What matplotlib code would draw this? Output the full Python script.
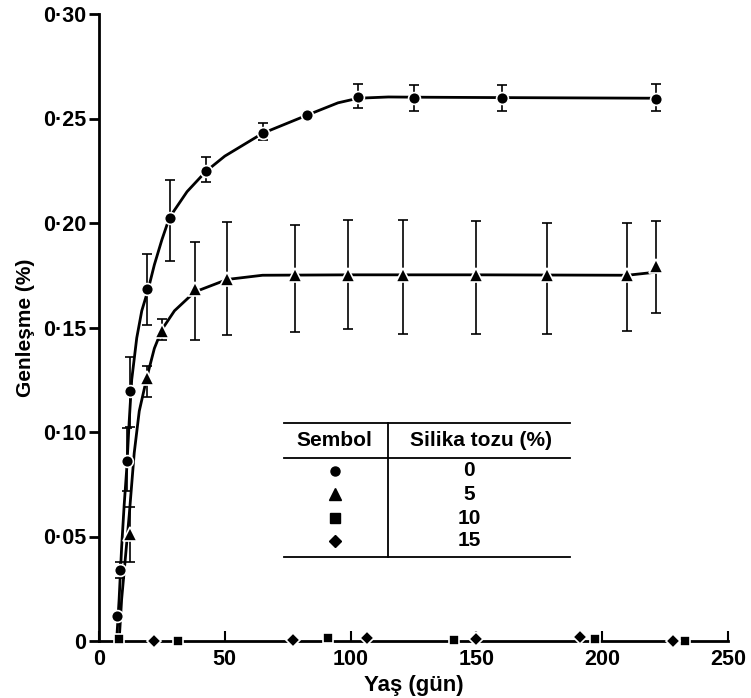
import matplotlib.pyplot as plt
from matplotlib.ticker import FuncFormatter
from matplotlib.lines import Line2D

plt.rcParams['font.family'] = ['Liberation Sans', 'DejaVu Sans']

# silika tozu 0 %
c_x = [7.2, 8.3, 11.3, 12.4, 19.1, 28.2, 42.5, 65.2, 82.7, 103, 125, 160, 221.5]
c_y = [0.012, 0.034, 0.086, 0.1195, 0.1685, 0.2026, 0.2247, 0.2429, 0.2516, 0.2605, 0.2600, 0.2600, 0.2595]
c_lo = [0, 0.004, 0.014, 0.017, 0.0175, 0.021, 0.005, 0.0033, 0, 0.0056, 0.0065, 0.0065, 0.006]
c_hi = [0, 0.004, 0.016, 0.0165, 0.0168, 0.018, 0.0067, 0.0048, 0, 0.0062, 0.006, 0.006, 0.0072]

# silika tozu 5 %
t_x = [12.3, 19.2, 25, 38.2, 51, 78, 99, 121, 150, 178, 210, 221.5]
t_y = [0.051, 0.1258, 0.1483, 0.1685, 0.1733, 0.175, 0.1752, 0.1752, 0.1752, 0.1752, 0.1752, 0.1795]
t_lo = [0.013, 0.009, 0.0045, 0.0245, 0.027, 0.027, 0.026, 0.0285, 0.0285, 0.0285, 0.027, 0.0225]
t_hi = [0.013, 0.0057, 0.0057, 0.0225, 0.0274, 0.024, 0.0264, 0.026, 0.0258, 0.025, 0.025, 0.0215]

# silika tozu 10 % ve 15 %
s_x = [7.8, 31.5, 91, 141, 197, 233]
s_y = [0.001, 0.0, 0.0015, 0.0005, 0.001, 0.0]
d_x = [21.7, 77, 106.6, 150, 191, 228]
d_y = [0.0, 0.0005, 0.0015, 0.001, 0.002, 0.0]

# fitted curves
fit0_x = [7, 8, 9, 10, 11, 12, 13, 15, 17, 19.5, 22, 25, 28, 35, 42.5, 50, 65, 82.7, 95, 103, 115, 125, 160, 221.5]
fit0_y = [0.0, 0.02, 0.045, 0.065, 0.082, 0.105, 0.125, 0.145, 0.158, 0.168, 0.180, 0.192, 0.2026, 0.215, 0.2247,
          0.232, 0.2429, 0.2516, 0.2575, 0.2597, 0.2603, 0.2602, 0.2600, 0.2597]
fit5_x = [8, 9, 10.5, 12, 14, 16, 19, 22, 25, 30, 38, 51, 65, 100, 150, 210, 221.5]
fit5_y = [0.0, 0.02, 0.04, 0.06, 0.09, 0.11, 0.126, 0.140, 0.149, 0.158, 0.167, 0.173, 0.175, 0.1752, 0.1752,
          0.175, 0.1765]

legend_syms = ['o', '^', 's', 'D']
legend_vals = ['0', '5', '10', '15']

fig = plt.figure(figsize=(7.51, 6.98), dpi=100)
ax = fig.add_axes([99 / 751, 57 / 698, 629 / 751, 627 / 698])

ax.errorbar(c_x, c_y, yerr=[c_lo, c_hi], fmt='none', ecolor='black', elinewidth=1.2, capsize=3.5, capthick=1.2)
ax.errorbar(t_x, t_y, yerr=[t_lo, t_hi], fmt='none', ecolor='black', elinewidth=1.2, capsize=3.5, capthick=1.2)
ax.plot(fit0_x, fit0_y, color='black', lw=2.0, solid_capstyle='round')
ax.plot(fit5_x, fit5_y, color='black', lw=2.0, solid_capstyle='round')

mk = dict(linestyle='none', color='black', markeredgecolor='white', markeredgewidth=1.2, clip_on=False, zorder=4)
ax.plot(c_x, c_y, marker='o', markersize=8.5, **mk)
ax.plot(t_x, t_y, marker='^', markersize=10, **mk)
ax.plot(s_x, s_y, marker='s', markersize=7.5, **mk)
ax.plot(d_x, d_y, marker='D', markersize=7.5, **mk)

ax.set_xlim(0, 250)
ax.set_ylim(0, 0.30)
ax.set_xticks([0, 50, 100, 150, 200, 250])
ax.set_yticks([0, 0.05, 0.10, 0.15, 0.20, 0.25, 0.30])
ax.yaxis.set_major_formatter(FuncFormatter(lambda v, p: '0' if v == 0 else ('%.2f' % v).replace('.', '\u00b7')))
for s in ['top', 'right']:
    ax.spines[s].set_visible(False)
for s in ['left', 'bottom']:
    ax.spines[s].set_linewidth(2.0)
ax.tick_params(axis='y', direction='out', length=7, width=2, labelsize=15.5, pad=2)
ax.tick_params(axis='x', direction='in', length=7, width=1.5, labelsize=15.5, pad=6)
for lab in ax.get_xticklabels() + ax.get_yticklabels():
    lab.set_fontweight('bold')

ax.set_xlabel('Yaş (gün)', fontsize=16, fontweight='bold', labelpad=3)
ax.set_ylabel('Genleşme (%)', fontsize=15, fontweight='bold', labelpad=6)

# symbol table
def fx(px):
    return (px - 99) / 629

def fy(py):
    return (641 - py) / 627

for py in [423, 458, 557]:
    ax.add_line(Line2D([fx(284), fx(570)], [fy(py), fy(py)], transform=ax.transAxes, color='black', lw=1.3))
ax.add_line(Line2D([fx(388), fx(388)], [fy(423), fy(557)], transform=ax.transAxes, color='black', lw=1.3))
ax.text(fx(334), fy(441), 'Sembol', transform=ax.transAxes, ha='center', va='center', fontsize=15,
        fontweight='bold')
ax.text(fx(481), fy(441), 'Silika tozu (%)', transform=ax.transAxes, ha='center', va='center', fontsize=15,
        fontweight='bold')
row_y = [471, 494, 518, 541]
for sym, val, py in zip(legend_syms, legend_vals, row_y):
    ax.plot([fx(335)], [fy(py)], marker=sym, color='black', markersize=6.5 if sym != '^' else 8,
            transform=ax.transAxes, linestyle='none')
    ax.text(fx(469), fy(py), val, transform=ax.transAxes, ha='center', va='center', fontsize=15,
            fontweight='bold')

fig.savefig('out.png', dpi=100)
